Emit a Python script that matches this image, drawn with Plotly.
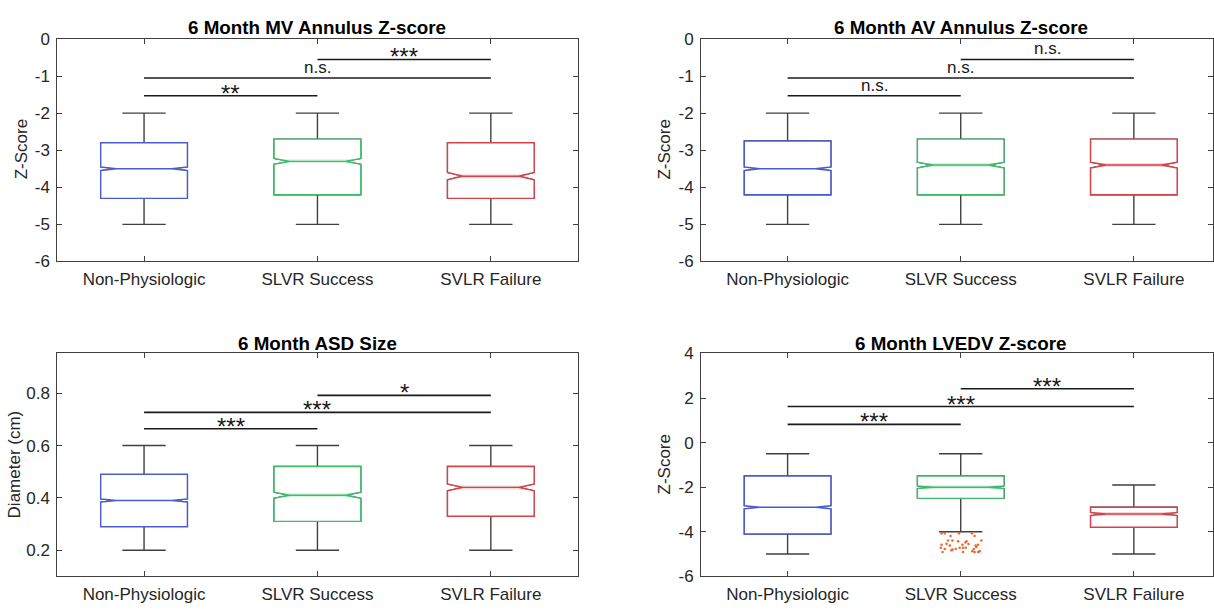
import plotly.graph_objects as go

# ---- categories -------------------------------------------------------------
groups = ["Non-Physiologic", "SLVR Success", "SVLR Failure"]
positions = [1, 2, 3]
box_colors = ["#4a5bd2", "#3fbd6b", "#d6434b"]
band_colors = [None, "rgba(63,189,107,0.20)", "rgba(214,67,75,0.20)"]

# ---- 6 Month MV Annulus Z-score -------------------------------------------
mv_q1 = [-4.3, -4.2, -4.3]
mv_med = [-3.5, -3.3, -3.7]
mv_q3 = [-2.8, -2.7, -2.8]
mv_low = [-5.0, -5.0, -5.0]
mv_high = [-2.0, -2.0, -2.0]
mv_notch = [0.05, 0.08, 0.10]
mv_sig_y = [-1.53, -1.05, -0.55]
mv_sig_txt = ["**", "n.s.", "***"]

# ---- 6 Month AV Annulus Z-score -------------------------------------------
av_q1 = [-4.2, -4.2, -4.2]
av_med = [-3.5, -3.4, -3.4]
av_q3 = [-2.75, -2.7, -2.7]
av_low = [-5.0, -5.0, -5.0]
av_high = [-2.0, -2.0, -2.0]
av_notch = [0.05, 0.08, 0.08]
av_sig_y = [-1.53, -1.05, -0.55]
av_sig_txt = ["n.s.", "n.s.", "n.s."]

# ---- 6 Month ASD Size -----------------------------------------------------
asd_q1 = [0.29, 0.31, 0.33]
asd_med = [0.39, 0.41, 0.44]
asd_q3 = [0.49, 0.52, 0.52]
asd_low = [0.2, 0.2, 0.2]
asd_high = [0.6, 0.6, 0.6]
asd_notch = [0.006, 0.012, 0.013]
asd_sig_y = [0.664, 0.727, 0.792]
asd_sig_txt = ["***", "***", "*"]

# ---- 6 Month LVEDV Z-score ------------------------------------------------
lv_q1 = [-4.1, -2.5, -3.8]
lv_med = [-2.9, -2.0, -3.2]
lv_q3 = [-1.5, -1.5, -2.9]
lv_low = [-5.0, -4.0, -5.0]
lv_high = [-0.5, -0.5, -1.9]
lv_notch = [0.07, 0.06, 0.07]
lv_sig_y = [0.82, 1.62, 2.42]
lv_sig_txt = ["***", "***", "***"]

# outliers of the SLVR Success group (horizontal jitter, value)
lv_out_jitter = [-0.111, -0.092, -0.059, -0.010, 0.065, 0.080,
                 -0.073, -0.048, -0.015, 0.027, 0.033, 0.119,
                 -0.111, -0.082, -0.063, 0.010, 0.086, 0.100,
                 -0.115, -0.092, -0.048, -0.029, -0.006, 0.013, 0.029,
                 0.075, 0.090, 0.109, -0.105, -0.054, 0.013, 0.067,
                 0.080, 0.100, 0.045]
lv_out_val = [-4.07, -4.07, -4.19, -4.07, -4.07, -4.19,
              -4.39, -4.39, -4.43, -4.48, -4.43, -4.39,
              -4.58, -4.54, -4.62, -4.58, -4.62, -4.58,
              -4.72, -4.77, -4.80, -4.77, -4.72, -4.72, -4.72,
              -4.77, -4.68, -4.87, -4.91, -4.83, -4.91, -4.87,
              -4.91, -4.91, -4.55]

# bracket pairs (same order for every panel)
sig_pairs = [(1, 2), (1, 3), (2, 3)]

FONT = "Liberation Sans, Arial, Helvetica, sans-serif"
AXIS_COLOR = "#404040"
TEXT_COLOR = "#262626"
WHISKER_COLOR = "#404040"

W, H = 1214, 613

panels = [
    dict(title="6 Month MV Annulus Z-score", ytitle="Z-Score",
         q1=mv_q1, med=mv_med, q3=mv_q3, lo=mv_low, hi=mv_high, notch=mv_notch,
         sig_y=mv_sig_y, sig_txt=mv_sig_txt,
         yrange=[-6, 0], ytick=[-6, -5, -4, -3, -2, -1, 0], ytext=None,
         xdom=[57.4 / W, 578 / W], ydom=[1 - 260.5 / H, 1 - 31 / H],
         xrange=[0.5, 3.5], title_x=317.7, title_y=19.5, ytitle_x=21.8, ytitle_y=145),
    dict(title="6 Month AV Annulus Z-score", ytitle="Z-Score",
         q1=av_q1, med=av_med, q3=av_q3, lo=av_low, hi=av_high, notch=av_notch,
         sig_y=av_sig_y, sig_txt=av_sig_txt,
         yrange=[-6, 0], ytick=[-6, -5, -4, -3, -2, -1, 0], ytext=None,
         xdom=[701.6 / W, 1.0], ydom=[1 - 260.5 / H, 1 - 31 / H],
         xrange=[0.5, 3.457], title_x=961.6, title_y=19.5, ytitle_x=664.6, ytitle_y=145),
    dict(title="6 Month ASD Size", ytitle="Diameter (cm)",
         q1=asd_q1, med=asd_med, q3=asd_q3, lo=asd_low, hi=asd_high, notch=asd_notch,
         sig_y=asd_sig_y, sig_txt=asd_sig_txt,
         yrange=[0.1, 0.952], ytick=[0.2, 0.4, 0.6, 0.8], ytext=["0.2", "0.4", "0.6", "0.8"],
         xdom=[57.4 / W, 578 / W], ydom=[1 - 585.5 / H, 1 - 355.5 / H],
         xrange=[0.5, 3.5], title_x=317.7, title_y=345, ytitle_x=14, ytitle_y=470),
    dict(title="6 Month LVEDV Z-score", ytitle="Z-Score",
         q1=lv_q1, med=lv_med, q3=lv_q3, lo=lv_low, hi=lv_high, notch=lv_notch,
         sig_y=lv_sig_y, sig_txt=lv_sig_txt,
         yrange=[-6, 4], ytick=[-6, -4, -2, 0, 2, 4], ytext=None,
         xdom=[701.6 / W, 1.0], ydom=[1 - 585.5 / H, 1 - 355.5 / H],
         xrange=[0.5, 3.457], title_x=961.6, title_y=345, ytitle_x=664.6, ytitle_y=470),
]

fig = go.Figure()
annotations = []

for k, p in enumerate(panels):
    sfx = "" if k == 0 else str(k + 1)
    xa, ya = "x" + sfx, "y" + sfx

    # whiskers in dark grey (box outline is hidden under the coloured box)
    fig.add_trace(go.Box(
        x=positions, q1=p["q1"], median=p["med"], q3=p["q3"],
        lowerfence=p["lo"], upperfence=p["hi"], notchspan=p["notch"],
        notched=True, notchwidth=0.18, width=0.5, whiskerwidth=0.5,
        boxpoints=False, line=dict(color=WHISKER_COLOR, width=1.4),
        fillcolor="white", hoverinfo="skip", xaxis=xa, yaxis=ya))

    # coloured notched boxes (fences at the quartiles: no extra whiskers)
    for i in range(3):
        fig.add_trace(go.Box(
            x=[positions[i]], q1=[p["q1"][i]], median=[p["med"][i]], q3=[p["q3"][i]],
            lowerfence=[p["q1"][i]], upperfence=[p["q3"][i]], notchspan=[p["notch"][i]],
            notched=True, notchwidth=0.18, width=0.5, whiskerwidth=1.0,
            boxpoints=False, line=dict(color=box_colors[i], width=1.4),
            fillcolor="white", hoverinfo="skip", xaxis=xa, yaxis=ya))
        # soft tint along the median line
        if band_colors[i]:
            fig.add_trace(go.Scatter(
                x=[positions[i] - 0.205, positions[i] + 0.205],
                y=[p["med"][i], p["med"][i]], mode="lines",
                line=dict(color=band_colors[i], width=4),
                hoverinfo="skip", xaxis=xa, yaxis=ya))

    # significance brackets
    for (a, b), yv, txt in zip(sig_pairs, p["sig_y"], p["sig_txt"]):
        fig.add_trace(go.Scatter(
            x=[a, b], y=[yv, yv], mode="lines",
            line=dict(color="#1a1a1a", width=1.6),
            hoverinfo="skip", xaxis=xa, yaxis=ya))
        star = txt.startswith("*")
        annotations.append(dict(
            x=(a + b) / 2, y=yv, xref=xa, yref=ya, text=txt, showarrow=False,
            xanchor="center", yanchor="bottom",
            yshift=-13 if star else -1,
            font=dict(family=FONT, size=24 if star else 17, color="#1a1a1a")))

    # panel title and y label
    annotations.append(dict(
        x=p["title_x"] / W, y=1 - p["title_y"] / H, xref="paper", yref="paper",
        text="<b>" + p["title"] + "</b>", showarrow=False,
        xanchor="center", yanchor="middle",
        font=dict(family=FONT, size=18.8, color="#000000")))
    annotations.append(dict(
        x=p["ytitle_x"] / W, y=1 - p["ytitle_y"] / H, xref="paper", yref="paper",
        text=p["ytitle"], showarrow=False, textangle=-90,
        xanchor="center", yanchor="middle",
        font=dict(family=FONT, size=17, color=TEXT_COLOR)))

    axis_common = dict(
        showline=True, linecolor=AXIS_COLOR, linewidth=1, mirror="ticks",
        ticks="inside", ticklen=5, tickwidth=1, tickcolor=AXIS_COLOR,
        showgrid=False, zeroline=False, fixedrange=True,
        tickfont=dict(family=FONT, size=17, color=TEXT_COLOR))

    fig.update_layout(**{
        "xaxis" + sfx: dict(
            domain=p["xdom"], range=p["xrange"], anchor=ya,
            tickmode="array", tickvals=positions, ticktext=groups,
            ticklabelstandoff=2, **axis_common),
        "yaxis" + sfx: dict(
            domain=p["ydom"], range=p["yrange"], anchor=xa,
            tickmode="array", tickvals=p["ytick"],
            ticktext=p["ytext"] if p["ytext"] else [str(v) for v in p["ytick"]],
            ticklabelstandoff=3, **axis_common),
    })

# outliers of SLVR Success, LVEDV panel
fig.add_trace(go.Scatter(
    x=[2 + d for d in lv_out_jitter], y=lv_out_val, mode="markers",
    marker=dict(color="#ea6a35", size=2.6, line=dict(width=0)),
    hoverinfo="skip", xaxis="x4", yaxis="y4"))

fig.update_layout(
    width=W, height=H, margin=dict(l=0, r=0, t=0, b=0),
    paper_bgcolor="white", plot_bgcolor="white",
    showlegend=False, boxmode="overlay",
    annotations=annotations,
    font=dict(family=FONT, color=TEXT_COLOR),
)

fig.write_html("out.html", config={"displayModeBar": False})
